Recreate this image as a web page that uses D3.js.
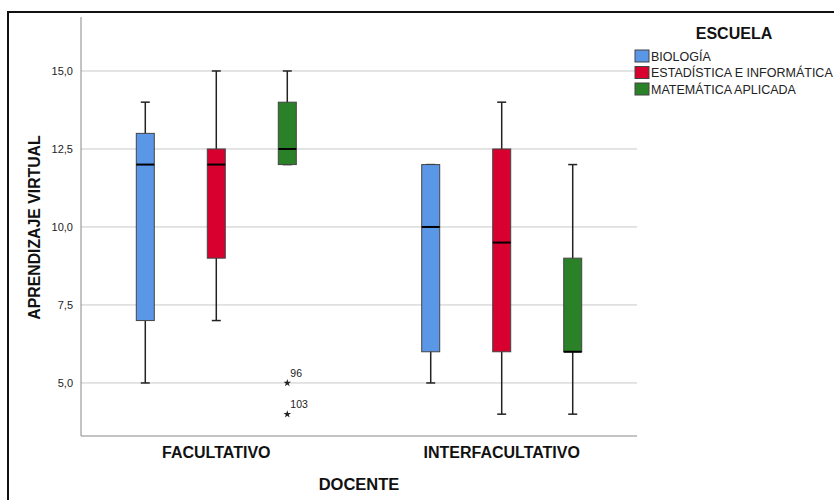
<!DOCTYPE html>
<html>
<head>
<meta charset="utf-8">
<script src="https://cdn.jsdelivr.net/npm/d3@7"></script>
<style>
  body { margin: 0; background: #fff; }
  text { font-family: Arial, "Liberation Sans", sans-serif; }
</style>
</head>
<body>
<div id="chart"></div>
<script>
const groups = ['FACULTATIVO', 'INTERFACULTATIVO'];
const series = ['BIOLOGÍA', 'ESTADÍSTICA E INFORMÁTICA', 'MATEMÁTICA APLICADA'];
const colors = ['#5a97e6', '#d7002e', '#2a8128'];
// per group: [biologia, estadistica, matematica]
const mins    = [[5, 7, 12],     [5, 4, 4]];
const q1s     = [[7, 9, 12],     [6, 6, 6]];
const medians = [[12, 12, 12.5], [10, 9.5, 6]];
const q3s     = [[13, 12.5, 14], [12, 12.5, 9]];
const maxs    = [[14, 15, 15],   [12, 14, 12]];
const outliers = [
  { g: 0, s: 2, value: 5, label: '96' },
  { g: 0, s: 2, value: 4, label: '103' }
];
const yTicks = [5, 7.5, 10, 12.5, 15];

const width = 834, height = 500;
const plot = { left: 81, right: 637, top: 17, bottom: 436 };

const svg = d3.select('#chart').append('svg')
    .attr('width', width)
    .attr('height', height);

// outer frame
svg.append('rect')
    .attr('x', 8).attr('y', 12)
    .attr('width', 840).attr('height', 520)
    .attr('fill', 'none')
    .attr('stroke', '#111')
    .attr('stroke-width', 2);

const y = d3.scaleLinear().domain([3.3, 16.73]).range([plot.bottom, plot.top]);
const xg = d3.scalePoint().domain(groups).range([plot.left, plot.right]).padding(0.474);
const xs = d3.scalePoint().domain(d3.range(series.length)).range([-71, 71]);

// gridlines
svg.append('g').selectAll('line')
    .data(yTicks)
    .enter().append('line')
    .attr('x1', plot.left).attr('x2', plot.right)
    .attr('y1', d => y(d)).attr('y2', d => y(d))
    .attr('stroke', '#c8c8c8')
    .attr('stroke-width', 1);

// y axis
const yAxis = svg.append('g')
    .attr('transform', `translate(${plot.left},0)`)
    .call(d3.axisLeft(y).tickValues(yTicks).tickSize(0).tickPadding(8)
        .tickFormat(d => d3.format('.1f')(d).replace('.', ',')));
yAxis.select('.domain').remove();
yAxis.selectAll('text').attr('font-size', 11).attr('fill', '#222');

// axis lines
svg.append('line')
    .attr('x1', plot.left).attr('x2', plot.left)
    .attr('y1', plot.top).attr('y2', plot.bottom)
    .attr('stroke', '#888');
svg.append('line')
    .attr('x1', plot.left).attr('x2', plot.right)
    .attr('y1', plot.bottom).attr('y2', plot.bottom)
    .attr('stroke', '#888');

// x labels
svg.append('g').selectAll('text')
    .data(groups)
    .enter().append('text')
    .attr('x', d => xg(d))
    .attr('y', 458)
    .attr('text-anchor', 'middle')
    .attr('font-size', 16)
    .attr('font-weight', 'bold')
    .attr('fill', '#111')
    .text(d => d);

svg.append('text')
    .attr('x', (plot.left + plot.right) / 2)
    .attr('y', 490)
    .attr('text-anchor', 'middle')
    .attr('font-size', 16.5)
    .attr('font-weight', 'bold')
    .attr('fill', '#111')
    .text('DOCENTE');

svg.append('text')
    .attr('transform', `translate(40,${(plot.top + plot.bottom) / 2 + 1}) rotate(-90)`)
    .attr('text-anchor', 'middle')
    .attr('font-size', 15.8)
    .attr('font-weight', 'bold')
    .attr('fill', '#111')
    .text('APRENDIZAJE VIRTUAL');

// boxes
const boxW = 18, capW = 9;
const boxes = [];
groups.forEach((g, gi) => {
    series.forEach((s, si) => {
        boxes.push({ gi, si, cx: xg(g) + xs(si),
            min: mins[gi][si], q1: q1s[gi][si], med: medians[gi][si],
            q3: q3s[gi][si], max: maxs[gi][si] });
    });
});

const box = svg.append('g').selectAll('g')
    .data(boxes)
    .enter().append('g');

box.append('line')
    .attr('x1', d => d.cx).attr('x2', d => d.cx)
    .attr('y1', d => y(d.max)).attr('y2', d => y(d.min))
    .attr('stroke', '#222').attr('stroke-width', 1.5);
box.append('line')
    .attr('x1', d => d.cx - capW / 2).attr('x2', d => d.cx + capW / 2)
    .attr('y1', d => y(d.max)).attr('y2', d => y(d.max))
    .attr('stroke', '#222').attr('stroke-width', 1.5);
box.append('line')
    .attr('x1', d => d.cx - capW / 2).attr('x2', d => d.cx + capW / 2)
    .attr('y1', d => y(d.min)).attr('y2', d => y(d.min))
    .attr('stroke', '#222').attr('stroke-width', 1.5);
box.append('rect')
    .attr('x', d => d.cx - boxW / 2)
    .attr('width', boxW)
    .attr('y', d => y(d.q3))
    .attr('height', d => y(d.q1) - y(d.q3))
    .attr('fill', d => colors[d.si])
    .attr('stroke', '#444')
    .attr('stroke-width', 1);
box.append('line')
    .attr('x1', d => d.cx - boxW / 2).attr('x2', d => d.cx + boxW / 2)
    .attr('y1', d => y(d.med)).attr('y2', d => y(d.med))
    .attr('stroke', '#000').attr('stroke-width', 2);

// outliers
const out = svg.append('g').selectAll('g')
    .data(outliers)
    .enter().append('g')
    .attr('transform', d => `translate(${xg(groups[d.g]) + xs(d.s)},${y(d.value)})`);
out.append('path')
    .attr('d', d3.symbol(d3.symbolStar, 18))
    .attr('fill', '#222');
out.append('text')
    .attr('x', 3)
    .attr('y', -6)
    .attr('font-size', 10.5)
    .attr('fill', '#222')
    .text(d => d.label);

// legend
const legend = svg.append('g');
legend.append('text')
    .attr('x', 734).attr('y', 39)
    .attr('text-anchor', 'middle')
    .attr('font-size', 16)
    .attr('font-weight', 'bold')
    .attr('fill', '#111')
    .text('ESCUELA');
const item = legend.selectAll('g.item')
    .data(series)
    .enter().append('g')
    .attr('class', 'item')
    .attr('transform', (d, i) => `translate(635,${50 + i * 16.5})`);
item.append('rect')
    .attr('width', 14).attr('height', 12)
    .attr('fill', (d, i) => colors[i])
    .attr('stroke', '#444');
item.append('text')
    .attr('x', 16).attr('y', 10.5)
    .attr('font-size', 12.5)
    .attr('fill', '#222')
    .text(d => d);
</script>
</body>
</html>
